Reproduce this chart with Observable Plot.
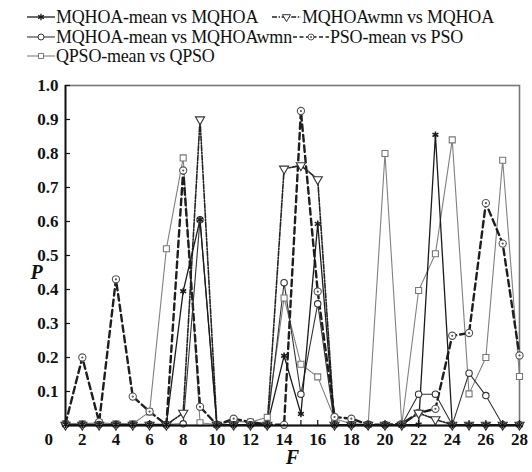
<!DOCTYPE html>
<html><head><meta charset="utf-8">
<script src="https://cdn.jsdelivr.net/npm/d3@7"></script>
<script src="https://cdn.jsdelivr.net/npm/@observablehq/plot@0.6"></script>
<style>
body{margin:0;background:#fff;}
#wrap{width:532px;font-family:"Liberation Serif","Times New Roman",Times,"DejaVu Serif",serif;color:#111;}
#legend{position:relative;height:65px;}
.item{position:absolute;display:flex;align-items:center;font-size:18px;line-height:20px;white-space:nowrap;letter-spacing:-0.2px;}
.item svg{display:block;margin-right:1px;}
svg text{font-family:"Liberation Serif","Times New Roman",Times,"DejaVu Serif",serif;}
</style></head><body><div id="wrap"><div id="legend"></div><div id="chart"></div></div>
<script>
// F = 1..28
const F = d3.range(1, 29);
const seriesNames = ["MQHOA-mean vs MQHOA", "MQHOAwmn vs MQHOA", "MQHOA-mean vs MQHOAwmn", "PSO-mean vs PSO", "QPSO-mean vs QPSO"];
const meanVsMqhoa   = [0.003,0.003,0.003,0.003,0.003,0.003,0.003,0.395,0.605,0.002,0.002,0.002,0.002,0.205,0.034,0.593,0.002,0.002,0.002,0.002,0.002,0.003,0.855,0.002,0.002,0.002,0.002,0.002];
const wmnVsMqhoa    = [0.002,0.002,0.002,0.002,0.002,0.002,0.002,0.037,0.900,0.002,0.002,0.002,0.002,0.755,0.765,0.724,0.002,0.002,0.002,0.002,0.002,0.037,0.018,0.002,0.002,0.002,0.002,0.002];
const meanVsWmn     = [0.003,0.003,0.003,0.003,0.003,0.003,0.003,0.005,0.605,0.002,0.002,0.002,0.002,0.420,0.092,0.358,0.002,0.002,0.002,0.002,0.002,0.092,0.092,0.002,0.154,0.088,0.002,0.002];
const psoMeanVsPso  = [0.005,0.200,0.010,0.430,0.085,0.041,0.002,0.750,0.055,0.002,0.020,0.010,0.003,0.002,0.925,0.394,0.025,0.020,0.003,0.002,0.005,0.037,0.049,0.264,0.272,0.654,0.535,0.206];
const qpsoMeanVsQpso= [0.005,0.005,0.008,0.005,0.005,0.040,0.520,0.787,0.008,0.003,0.012,0.010,0.024,0.375,0.180,0.143,0.020,0.005,0.003,0.800,0.003,0.397,0.505,0.840,0.093,0.200,0.780,0.144];
const xTickLabels = d3.range(0, 29, 2);
const xTickMarks = F;
const yTicks = [0.1,0.2,0.3,0.4,0.5,0.6,0.7,0.8,0.9,1.0];

const toRows = vals => F.map((f, i) => ({F: f, P: vals[i]}));
const s1 = toRows(meanVsMqhoa), s2 = toRows(wmnVsMqhoa), s3 = toRows(meanVsWmn), s4 = toRows(psoMeanVsPso), s5 = toRows(qpsoMeanVsQpso);

const styles = [
  {stroke:"#1a1a1a", width:1.3, dash:null, symbol:"asterisk", r:3.2, mstroke:"#1a1a1a"},
  {stroke:"#222", width:1.6, dash:"5,1.6,1.4,1.6", symbol:"triangle", r:3.4, mstroke:"#333"},
  {stroke:"#333", width:1.1, dash:null, symbol:"circle", r:3.2, mstroke:"#333"},
  {stroke:"#1e1e1e", width:2.4, dash:"6.5,4", symbol:"circle", r:3.6, mstroke:"#555"},
  {stroke:"#808080", width:1.1, dash:null, symbol:"square", r:3.4, mstroke:"#777"}
];
const data = [s1, s2, s3, s4, s5];
const fontStack = "'Liberation Serif','Times New Roman',Times,'DejaVu Serif',serif";

const marks = [
  Plot.frame({stroke:"#777", strokeWidth:1.6}),
  Plot.axisY({ticks: yTicks, tickSize: 0, tickPadding: 7, tickFormat: d3.format(".1f"), label: null}),
  Plot.axisX({ticks: xTickLabels, tickSize: 0, tickPadding: 7, tickFormat: d => d, label: null}),
  Plot.tickY(yTicks, {y: d => d, insetRight: 449, stroke: "#111", strokeWidth: 1.2}),
  Plot.tickX(xTickMarks, {x: d => d, insetTop: 335, stroke: "#111", strokeWidth: 1.2}),
];
// draw series in reverse so first legend item on top
[4,3,2,1,0].forEach(k => {
  const st = styles[k], d = data[k];
  marks.push(Plot.line(d, {x:"F", y:"P", stroke: st.stroke, strokeWidth: st.width, strokeDasharray: st.dash}));
});
[4,3,2,1,0].forEach(k => {
  const st = styles[k], d = data[k];
  if (k === 1) {
    marks.push(Plot.dot(d, {x:"F", y:"P", symbol:"triangle", r: st.r, stroke: st.mstroke, fill:"white", strokeWidth:1.1, rotate:180}));
  } else if (k === 3) {
    marks.push(Plot.dot(d, {x:"F", y:"P", symbol:"circle", r: st.r, stroke: st.mstroke, fill:"white", strokeWidth:1.1}));
    marks.push(Plot.dot(d, {x:"F", y:"P", symbol:"circle", r: 1.1, fill: "#555", stroke:null}));
  } else if (k === 0) {
    marks.push(Plot.dot(d, {x:"F", y:"P", symbol:"asterisk", r: st.r, stroke: st.mstroke, strokeWidth:1.5}));
  } else {
    marks.push(Plot.dot(d, {x:"F", y:"P", symbol: st.symbol, r: st.r, stroke: st.mstroke, fill:"white", strokeWidth:1.1}));
  }
});
marks.push(Plot.ruleX([1], {stroke:"#111", strokeWidth:1.8}));
marks.push(Plot.ruleY([0], {stroke:"#111", strokeWidth:1.8}));
marks.push(Plot.text(["F"], {text: d => d, frameAnchor:"bottom", dy: 38, fontStyle:"italic", fontWeight:"bold", fontSize: 20}));
marks.push(Plot.text(["P"], {text: d => d, frameAnchor:"left", dx: -35, dy: 17, fontStyle:"italic", fontWeight:"bold", fontSize: 20}));

const chart = Plot.plot({
  width: 532, height: 407,
  marginTop: 20, marginBottom: 47, marginLeft: 65, marginRight: 13,
  style: {fontFamily: fontStack, fontSize: "17px", fontWeight: "bold", color: "#111", background: "#fff"},
  x: {domain: [1, 28]},
  y: {domain: [0, 1]},
  marks
});
document.getElementById("chart").appendChild(chart);

// legend
const legendPos = [[27,17,28],[272,17,29],[27,37,28],[293,37,36],[27,56,28]];
const legend = d3.select("#legend");
seriesNames.forEach((name, k) => {
  const [left, cy, w] = legendPos[k];
  const st = styles[k];
  const item = legend.append("div").attr("class","item").style("left", left+"px").style("top", (cy-10)+"px");
  const svg = item.append("svg").attr("width", w).attr("height", 14);
  svg.append("line").attr("x1",0).attr("x2",w).attr("y1",7).attr("y2",7)
    .attr("stroke", st.stroke).attr("stroke-width", Math.min(st.width,1.6)).attr("stroke-dasharray", k===3 ? "4,2.5" : st.dash);
  const cx = w/2;
  if (k === 0) {
    svg.append("path").attr("d", d3.symbol(d3.symbolAsterisk, 30)()).attr("transform",`translate(${cx},7)`).attr("stroke",st.mstroke).attr("stroke-width",1.3).attr("fill","none");
  } else if (k === 1) {
    svg.append("path").attr("d", d3.symbol(d3.symbolTriangle, 28)()).attr("transform",`translate(${cx},7) rotate(180)`).attr("stroke",st.mstroke).attr("fill","white");
  } else if (k === 4) {
    svg.append("path").attr("d", d3.symbol(d3.symbolSquare, 26)()).attr("transform",`translate(${cx},7)`).attr("stroke",st.mstroke).attr("fill","white");
  } else {
    svg.append("circle").attr("cx",cx).attr("cy",7).attr("r",3).attr("stroke",st.mstroke).attr("fill","white");
    if (k === 3) svg.append("circle").attr("cx",cx).attr("cy",7).attr("r",1).attr("fill","#555");
  }
  item.append("span").text(name);
});
</script></body></html>
